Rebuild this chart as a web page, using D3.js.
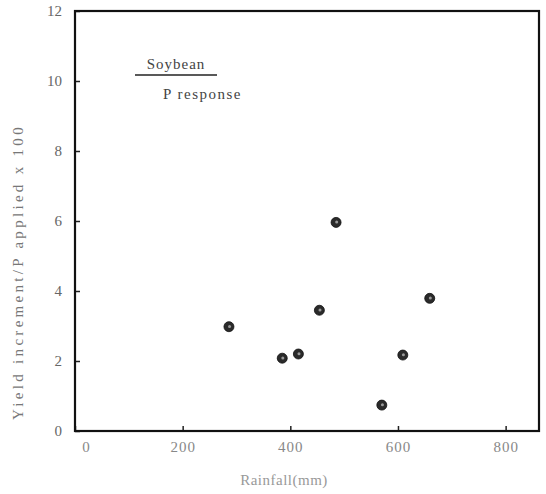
<!DOCTYPE html>
<html>
<head>
<meta charset="utf-8">
<script src="https://cdn.jsdelivr.net/npm/d3@7"></script>
<style>
  body { margin: 0; background: #fff; }
  text { font-family: "Liberation Serif", "DejaVu Serif", serif; }
</style>
</head>
<body>
<div id="chart"></div>
<script>
// data
const rainfall = [286, 385, 415, 454, 485, 570, 609, 659];
const response = [2.98, 2.08, 2.2, 3.45, 5.96, 0.74, 2.17, 3.79];
const xTicks = [0, 200, 400, 600, 800];
const yTicks = [0, 2, 4, 6, 8, 10, 12];

const points = rainfall.map((r, i) => ({ x: r, y: response[i] }));

const margin = { top: 11, right: 7, bottom: 63, left: 75 };
const width = 546 - margin.left - margin.right;
const height = 494 - margin.top - margin.bottom;

const svg = d3.select("#chart")
  .append("svg")
  .attr("width", 546)
  .attr("height", 494);

const g = svg.append("g")
  .attr("transform", `translate(${margin.left},${margin.top})`);

const x = d3.scaleLinear().domain([0, 862]).range([0, width]);
const y = d3.scaleLinear().domain([0, 12]).range([height, 0]);

// axes with inward ticks
const xAxis = g.append("g")
  .attr("transform", `translate(0,${height})`)
  .call(d3.axisBottom(x).tickValues(xTicks).tickSizeInner(-5).tickSizeOuter(0).tickPadding(10));

xAxis.selectAll("text")
  .attr("fill", "#888")
  .style("font-size", "15px")
  .style("letter-spacing", "1px")
  .attr("dx", d => d === 0 ? 11 : 0);

const yAxis = g.append("g")
  .call(d3.axisLeft(y).tickValues(yTicks).tickSizeInner(-5).tickSizeOuter(0).tickPadding(13));

yAxis.selectAll("text")
  .attr("fill", "#666")
  .style("font-size", "15px");

g.selectAll(".domain").remove();
g.selectAll(".tick line").attr("stroke", "#222").attr("stroke-width", 1.5);

// frame
g.append("rect")
  .attr("x", 0)
  .attr("y", 0)
  .attr("width", width)
  .attr("height", height)
  .attr("fill", "none")
  .attr("stroke", "#111")
  .attr("stroke-width", 2.2);

// points
g.selectAll(".dot")
  .data(points)
  .enter()
  .append("circle")
  .attr("class", "dot")
  .attr("cx", d => x(d.x))
  .attr("cy", d => y(d.y))
  .attr("r", 5)
  .attr("fill", "#2a2a2a")
  .attr("stroke", "#111")
  .attr("stroke-width", 0.8);

g.selectAll(".dotmark")
  .data(points)
  .enter()
  .append("circle")
  .attr("class", "dotmark")
  .attr("cx", d => x(d.x) + 0.6)
  .attr("cy", d => y(d.y) - 0.3)
  .attr("r", 1.5)
  .attr("fill", "#999");

// legend label
svg.append("text")
  .attr("x", 176)
  .attr("y", 69)
  .attr("text-anchor", "middle")
  .attr("fill", "#444")
  .style("font-size", "15px")
  .style("letter-spacing", "1px")
  .text("Soybean");

svg.append("line")
  .attr("x1", 135)
  .attr("x2", 217)
  .attr("y1", 75)
  .attr("y2", 75)
  .attr("stroke", "#222")
  .attr("stroke-width", 1.6);

svg.append("text")
  .attr("x", 163)
  .attr("y", 99)
  .attr("fill", "#444")
  .style("font-size", "15px")
  .style("letter-spacing", "1.5px")
  .text("P  response");

// axis titles
svg.append("text")
  .attr("transform", "translate(23,272) rotate(-90)")
  .attr("text-anchor", "middle")
  .attr("fill", "#777")
  .style("font-size", "15px")
  .style("letter-spacing", "3.3px")
  .text("Yield increment/P applied x 100");

svg.append("text")
  .attr("x", 284)
  .attr("y", 485)
  .attr("text-anchor", "middle")
  .attr("fill", "#999")
  .style("font-size", "15px")
  .style("letter-spacing", "0.5px")
  .text("Rainfall(mm)");
</script>
</body>
</html>
